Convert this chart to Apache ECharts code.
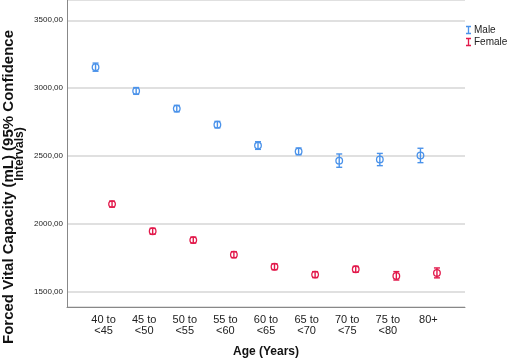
<!DOCTYPE html>
<html>
<head>
<meta charset="utf-8">
<script src="https://cdn.jsdelivr.net/npm/echarts@6/dist/echarts.min.js"></script>
<style>
html,body{margin:0;padding:0;background:#fff;}
#chart{width:510px;height:363px;}
</style>
</head>
<body>
<div id="chart"></div>
<script>
const categories = ['40 to\n<45', '45 to\n<50', '50 to\n<55', '55 to\n<60', '60 to\n<65', '65 to\n<70', '70 to\n<75', '75 to\n<80', '80+'];
const maleMean = [3155, 2980, 2850, 2732, 2578, 2535, 2467, 2476, 2505];
const maleLow  = [3125, 2955, 2826, 2708, 2550, 2510, 2418, 2430, 2452];
const maleHigh = [3185, 3005, 2874, 2756, 2606, 2560, 2516, 2520, 2558];
const femaleMean = [2147, 1947, 1882, 1775, 1686, 1628, 1667, 1618, 1640];
const femaleLow  = [2125, 1925, 1860, 1753, 1664, 1606, 1645, 1588, 1604];
const femaleHigh = [2169, 1969, 1904, 1797, 1708, 1650, 1689, 1650, 1677];
const yTicks = [1500, 2000, 2500, 3000, 3500];
const yTickLabels = ['1500,00', '2000,00', '2500,00', '3000,00', '3500,00'];

const MALE_COLOR = '#4a92ea';
const FEMALE_COLOR = '#e2194b';

function errSeries(name, color, mean, low, high, dx) {
  return {
    type: 'custom',
    name: name,
    itemStyle: { color: color },
    data: mean.map((m, i) => [i, m, low[i], high[i]]),
    encode: { x: 0, y: [1, 2, 3] },
    renderItem: function (params, api) {
      const i = api.value(0);
      const c = api.coord([i, api.value(1)]);
      const lo = api.coord([i, api.value(2)]);
      const hi = api.coord([i, api.value(3)]);
      const x = c[0] + dx;
      const cap = 3;
      const st = { stroke: color, lineWidth: 1.4, fill: null };
      return {
        type: 'group',
        children: [
          { type: 'line', shape: { x1: x, y1: hi[1], x2: x, y2: lo[1] }, style: st },
          { type: 'line', shape: { x1: x - cap, y1: hi[1], x2: x + cap, y2: hi[1] }, style: st },
          { type: 'line', shape: { x1: x - cap, y1: lo[1], x2: x + cap, y2: lo[1] }, style: st },
          { type: 'circle', shape: { cx: x, cy: c[1], r: 3.3 }, style: { stroke: color, lineWidth: 1.3, fill: 'rgba(0,0,0,0)' } }
        ]
      };
    }
  };
}

const chart = echarts.init(document.getElementById('chart'), null, { renderer: 'canvas' });
const iconPath = 'path://M0,0 H6 V1.6 H3.8 V8.4 H6 V10 H0 V8.4 H2.2 V1.6 H0 Z';
chart.setOption({
  animation: false,
  backgroundColor: '#fff',
  grid: { left: 67, right: 45, top: -5, bottom: 55, containLabel: false },
  legend: {
    orient: 'vertical',
    left: 466, top: 25,
    padding: 0,
    itemWidth: 5, itemHeight: 9, itemGap: 2,
    textStyle: { fontFamily: 'Liberation Sans', fontSize: 10, color: '#222', padding: [0, 0, 0, -2] },
    data: [{ name: 'Male', icon: iconPath }, { name: 'Female', icon: iconPath }]
  },
  xAxis: {
    type: 'value',
    min: -0.9, max: 8.9,
    minInterval: 1, maxInterval: 1,
    axisLine: { show: true, onZero: false, lineStyle: { color: '#888', width: 1 } },
    axisTick: { show: false },
    splitLine: { show: false },
    axisLabel: {
      showMinLabel: false, showMaxLabel: false,
      margin: 8,
      fontFamily: 'Liberation Sans', fontSize: 11, lineHeight: 10.5, color: '#222',
      formatter: function (v) {
        const r = Math.round(v);
        return (Math.abs(v - r) < 1e-6 && r >= 0 && r < categories.length) ? categories[r] : '';
      }
    },
    name: 'Age (Years)',
    nameLocation: 'middle',
    nameGap: 39,
    nameTextStyle: { fontFamily: 'Liberation Sans', fontSize: 12, fontWeight: 'bold', color: '#111' }
  },
  yAxis: {
    type: 'value',
    min: 1389.5, max: 3649.4,
    minInterval: 500, maxInterval: 500,
    axisLine: { show: true, onZero: false, lineStyle: { color: '#888', width: 1 } },
    axisTick: { show: false },
    splitLine: { show: true, lineStyle: { color: '#d6d6d6', width: 1.5 } },
    axisLabel: {
      showMinLabel: false, showMaxLabel: false,
      margin: 4,
      fontFamily: 'Liberation Sans', fontSize: 8, color: '#222',
      formatter: function (v) {
        const k = yTicks.indexOf(Math.round(v));
        return (k >= 0 && Math.abs(v - yTicks[k]) < 1e-6) ? yTickLabels[k] : '';
      }
    }
  },
  graphic: [
    { type: 'text', x: 8.5, y: 187, rotation: Math.PI / 2,
      style: { text: 'Forced Vital Capacity (mL) (95% Confidence', fontFamily: 'Liberation Sans', fontSize: 15, fontWeight: 'bold', fill: '#111', textAlign: 'center', textVerticalAlign: 'middle' } },
    { type: 'text', x: 20, y: 154, rotation: Math.PI / 2,
      style: { text: 'Intervals)', fontFamily: 'Liberation Sans', fontSize: 12, fontWeight: 'bold', fill: '#111', textAlign: 'center', textVerticalAlign: 'middle' } }
  ],
  series: [
    errSeries('Male', MALE_COLOR, maleMean, maleLow, maleHigh, -8),
    errSeries('Female', FEMALE_COLOR, femaleMean, femaleLow, femaleHigh, 8.5)
  ]
});
</script>
</body>
</html>
